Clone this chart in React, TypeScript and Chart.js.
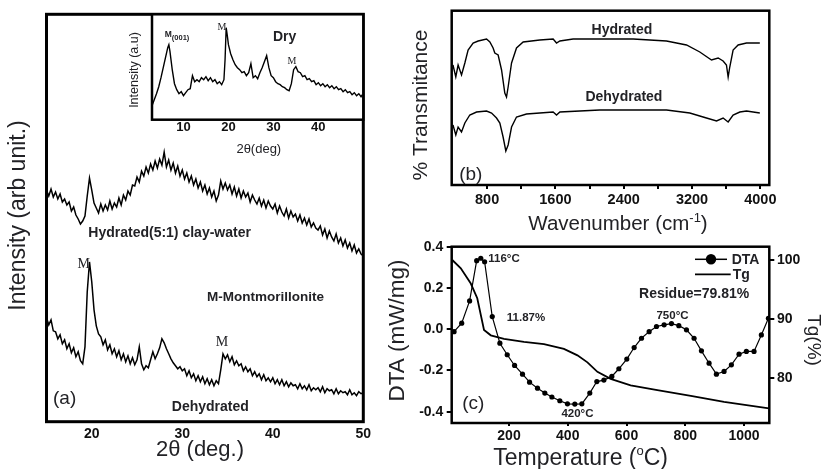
import React, { useEffect, useRef } from 'react';
import { Chart, registerables } from 'chart.js';

Chart.register(...registerables);

const SANS = '"Liberation Sans", Arial, Helvetica, sans-serif';
const SERIF = '"Liberation Serif", "Times New Roman", serif';
const INK = '#111111';
const TXT = '#222226';

// ---------- (a) XRD, main panel ----------
const xrdAngles = [15,15.25,15.5,15.75,16,16.25,16.5,16.75,17,17.25,17.5,17.75,18,18.25,18.5,18.75,19,19.25,19.5,19.75,20,20.25,20.5,20.75,21,21.25,21.5,21.75,22,22.25,22.5,22.75,23,23.25,23.5,23.75,24,24.25,24.5,24.75,25,25.25,25.5,25.75,26,26.25,26.5,26.75,27,27.25,27.5,27.75,28,28.25,28.5,28.75,29,29.25,29.5,29.75,30,30.25,30.5,30.75,31,31.25,31.5,31.75,32,32.25,32.5,32.75,33,33.25,33.5,33.75,34,34.25,34.5,34.75,35,35.25,35.5,35.75,36,36.25,36.5,36.75,37,37.25,37.5,37.75,38,38.25,38.5,38.75,39,39.25,39.5,39.75,40,40.25,40.5,40.75,41,41.25,41.5,41.75,42,42.25,42.5,42.75,43,43.25,43.5,43.75,44,44.25,44.5,44.75,45,45.25,45.5,45.75,46,46.25,46.5,46.75,47,47.25,47.5,47.75,48,48.25,48.5,48.75,49,49.25,49.5,49.75,50];
const hydratedXrd = [232,226,233,225,230,223,228,220,223,217,220,211,215,207,203,198,201,206,226,244,
  232,219,214,209,218,211,217,212,221,213,219,215,224,217,227,222,231,227,237,236,
  245,240,251,246,255,249,258,252,261,254,263,257,270,255,262,252,259,249,256,246,
  252,243,249,240,246,237,243,234,240,231,237,228,234,225,231,221,227,241,233,239,
  232,237,228,235,226,233,224,231,225,229,220,227,222,218,224,216,222,214,221,216,
  213,218,209,216,210,206,213,204,211,205,208,201,207,199,204,197,203,195,199,194,
  192,196,187,193,184,191,185,181,188,179,184,176,182,174,179,171,177,169,173,168,
  166];
const dehydratedXrd = [104,97,102,91,90,83,87,78,82,73,78,69,74,65,70,61,58,75,130,160,
  140,112,96,88,85,77,82,72,77,68,73,65,71,62,68,60,66,58,64,57,
  62,75,58,52,56,54,62,70,63,68,74,83,79,73,68,63,59,56,53,55,
  51,53,46,51,44,48,41,46,40,45,38,43,37,42,36,41,38,52,68,63,
  67,60,65,57,61,56,58,51,55,50,53,46,50,45,48,42,47,41,44,40,
  44,38,42,37,42,36,40,35,39,36,37,33,38,33,36,32,37,31,34,32,
  34,30,35,29,33,31,32,28,33,28,31,29,30,27,32,27,29,26,30,28,
  29];
const xrdTicks = [20, 30, 40, 50];

// ---------- (a) inset, dry clay ----------
const dryAngles = [3,3.5,4,4.5,5,5.5,6,6.5,6.75,7,7.5,8,8.5,9,9.5,10,10.5,11,11.5,12,12.5,13,13.5,14,14.5,15,15.5,16,16.5,17,17.5,18,18.5,19,19.25,19.5,19.75,20,20.5,21,21.5,22,22.5,23,23.5,24,24.5,25,25.5,26,26.5,27,27.5,28,28.5,29,29.5,30,30.5,31,31.5,32,32.5,33,33.5,34,34.5,35,35.5,36,36.5,37,37.5,38,38.5,39,39.5,40,40.5,41,41.5,42,42.5,43,43.5,44,44.5,45,45.5,46,46.5,47,47.5,48,48.5,49,49.5,49.8];
const dryXrd = [14,20,26,33,42,52,62,72,75,68,50,36,30,26,28,24,27,30,31,44,38,40,38,42,40,43,39,42,38,40,36,38,35,40,60,92,84,75,66,60,55,52,50,47,48,44,47,56,42,44,41,47,52,58,64,52,44,42,38,36,35,33,32,30,29,36,50,53,48,47,43,44,40,41,38,39,35,37,34,36,33,35,32,34,31,33,30,31,28,30,27,28,25,27,24,26,23,25];
const dryTicks = [10, 20, 30, 40];

// ---------- (b) FTIR ----------
const hydWavenumbers = [400,433,460,500,539,577,636,695,793,832,870,890,929,969,1007,1027,1046,1086,1144,1222,1417,1573,1613,1652,1807,2510,2901,3135,3291,3428,3506,3564,3603,3623,3642,3681,3740,3838,3994];
const hydTransmittance = [120,108,120,110,122,135,142,144,146,143,137,132,130,115,92,88,98,122,137,143,145,146,142,144,146,146,144,140,133,125,127,124,120,108,118,135,140,142,142];
const dehWavenumbers = [400,433,460,500,539,597,676,793,852,910,949,987,1019,1046,1086,1144,1261,1417,1573,1613,1652,2120,2901,3174,3369,3487,3564,3623,3681,3760,3838,3994];
const dehTransmittance = [60,50,58,53,62,70,73,74,72,67,62,48,34,40,58,68,71,72,73,70,73,75,75,72,67,64,67,63,70,73,74,72];
const wnTicks = [800,1200,1600,2000,2400,2800,3200,3600,4000];

// ---------- (c) DTA / TG ----------
const dtaTemps = [13,39,66,90,104,117,143,169,194,219,246,270,297,322,346,373,399,424,448,475,499,523,550,574,601,626,651,677,702,728,753,778,804,830,855,881,906,932,957,983,1008,1034,1059,1083];
const dtaValues = [-0.012,0.029,0.137,0.332,0.344,0.327,0.061,-0.068,-0.124,-0.176,-0.218,-0.257,-0.286,-0.31,-0.329,-0.347,-0.362,-0.363,-0.362,-0.31,-0.254,-0.247,-0.229,-0.192,-0.145,-0.089,-0.044,-0.012,0.013,0.021,0.027,0.017,-0.003,-0.044,-0.105,-0.165,-0.218,-0.205,-0.173,-0.121,-0.108,-0.108,-0.028,0.053];
const tgTemps = [7,36,70,92,115,138,183,251,319,387,433,467,501,546,614,705,819,932,1085];
const tgValues = [100,98.6,96.0,93.5,88.1,87.2,86.6,86.1,85.7,84.9,83.8,82.6,81.0,79.8,78.7,77.9,76.9,75.9,74.8];
const tempTicks = [200, 400, 600, 800, 1000];
const dtaTicks = [-0.4, -0.2, 0, 0.2, 0.4];
const tgTicks = [80, 90, 100];

// ---------- helpers ----------
type Part = { t: string; size: number; bold?: boolean; serif?: boolean; dy?: number };
type Label = {
  parts: Part[]; x: number; y: number;
  align?: 'left' | 'center' | 'right'; base?: CanvasTextBaseline; rot?: number; axes?: [string, string];
};

const fontOf = (p: Part) => `${p.bold ? 'bold ' : ''}${p.size}px ${p.serif ? SERIF : SANS}`;

function labelsPlugin(labels: Label[]) {
  return {
    id: 'labels',
    afterDraw(chart: any) {
      const ctx = chart.ctx as CanvasRenderingContext2D;
      for (const L of labels) {
        let x = L.x, y = L.y;
        if (L.axes) {
          x = chart.scales[L.axes[0]].getPixelForValue(L.x);
          y = chart.scales[L.axes[1]].getPixelForValue(L.y);
        }
        ctx.save();
        ctx.translate(x, y);
        if (L.rot) ctx.rotate(L.rot);
        ctx.fillStyle = TXT;
        ctx.textAlign = 'left';
        ctx.textBaseline = L.base ?? 'middle';
        const w = L.parts.map((p) => { ctx.font = fontOf(p); return ctx.measureText(p.t).width; });
        const total = w.reduce((a, b) => a + b, 0);
        let cx = L.align === 'left' ? 0 : L.align === 'right' ? -total : -total / 2;
        L.parts.forEach((p, i) => { ctx.font = fontOf(p); ctx.fillText(p.t, cx, p.dy ?? 0); cx += w[i]; });
        ctx.restore();
      }
    },
  };
}

function framePlugin(width: number, fillWhite = false) {
  return {
    id: 'frame',
    beforeDatasetsDraw(chart: any) {
      if (!fillWhite) return;
      const { ctx, chartArea: a } = chart;
      ctx.save();
      ctx.fillStyle = '#fff';
      ctx.fillRect(a.left, a.top, a.right - a.left, a.bottom - a.top);
      ctx.restore();
    },
    afterDatasetsDraw(chart: any) {
      const { ctx, chartArea: a } = chart;
      ctx.save();
      ctx.strokeStyle = '#000';
      ctx.lineWidth = width;
      ctx.strokeRect(a.left, a.top, a.right - a.left, a.bottom - a.top);
      ctx.restore();
    },
  };
}

const dtaLegendPlugin = {
  id: 'dtaLegend',
  afterDraw(chart: any) {
    const ctx = chart.ctx as CanvasRenderingContext2D;
    ctx.save();
    ctx.strokeStyle = '#000';
    ctx.fillStyle = '#000';
    ctx.lineWidth = 1.5;
    ctx.beginPath(); ctx.moveTo(315, 34.3); ctx.lineTo(347, 34.3); ctx.stroke();
    ctx.beginPath(); ctx.arc(331, 34.3, 5.2, 0, Math.PI * 2); ctx.fill();
    ctx.lineWidth = 1.8;
    ctx.beginPath(); ctx.moveTo(315, 49.3); ctx.lineTo(350.7, 49.3); ctx.stroke();
    ctx.restore();
  },
};

const fixedWidth = (w: number) => (s: any) => { s.width = w; };
const fixedHeight = (h: number) => (s: any) => { s.height = h; };
const setTicks = (vals: number[]) => (s: any) => { s.ticks = vals.map((value) => ({ value })); };
const tickFont = (size: number) => ({ family: SANS, size, weight: 'bold' as const });
const noGrid = { display: false, drawTicks: false };
const tickGrid = (len: number) => ({ display: true, drawOnChartArea: false, drawTicks: true, tickLength: len, color: '#000', lineWidth: 2 });
const baseOptions = {
  responsive: false,
  animation: false as const,
  events: [] as any[],
};
const quietPlugins = { legend: { display: false }, tooltip: { enabled: false } };
const pairs = (xs: number[], ys: number[]) => xs.map((x, i) => ({ x, y: ys[i] }));

// ---------- configs ----------
const configA = () => ({
  type: 'line',
  data: {
    datasets: [
      { label: 'Hydrated(5:1) clay-water', data: pairs(xrdAngles, hydratedXrd), borderColor: '#000', borderWidth: 1.5, pointRadius: 0 },
      { label: 'Dehydrated', data: pairs(xrdAngles, dehydratedXrd), borderColor: '#000', borderWidth: 1.5, pointRadius: 0 },
    ],
  },
  options: {
    ...baseOptions,
    layout: { padding: { left: 0, top: 14.3, right: 16.7, bottom: 0 } },
    plugins: quietPlugins,
    scales: {
      x: {
        type: 'linear', min: 15, max: 50, afterBuildTicks: setTicks(xrdTicks), afterFit: fixedHeight(47.3),
        grid: noGrid, border: { display: false },
        ticks: { font: tickFont(14), color: INK, padding: 4, maxRotation: 0, autoSkip: false, callback: (v: any) => String(v) },
      },
      y: { type: 'linear', min: 0, max: 408, afterFit: fixedWidth(46.5), grid: noGrid, border: { display: false }, ticks: { display: false } },
    },
  },
  plugins: [
    framePlugin(3),
    labelsPlugin([
      { parts: [{ t: 'Intensity (arb unit.)', size: 23 }], x: 18.5, y: 215.5, rot: -Math.PI / 2 },
      { parts: [{ t: '2θ (deg.)', size: 22 }], x: 200, y: 456, base: 'alphabetic' },
      { parts: [{ t: 'Hydrated(5:1) clay-water', size: 14, bold: true }], x: 28.6, y: 189, axes: ['x', 'y'] },
      { parts: [{ t: 'M-Montmorillonite', size: 13.5, bold: true }], x: 39.2, y: 125, axes: ['x', 'y'] },
      { parts: [{ t: 'Dehydrated', size: 14, bold: true }], x: 33.1, y: 15, axes: ['x', 'y'] },
      { parts: [{ t: '(a)', size: 19 }], x: 17.0, y: 23, axes: ['x', 'y'] },
      { parts: [{ t: 'M', size: 14, serif: true }], x: 19.1, y: 158, axes: ['x', 'y'] },
      { parts: [{ t: 'M', size: 14, serif: true }], x: 34.4, y: 79, axes: ['x', 'y'] },
    ]),
  ],
});

const configInset = () => ({
  type: 'line',
  data: {
    datasets: [
      { label: 'Dry', data: pairs(dryAngles, dryXrd), borderColor: '#000', borderWidth: 1.4, pointRadius: 0 },
    ],
  },
  options: {
    ...baseOptions,
    layout: { padding: { left: 0, top: 14.3, right: 6.7, bottom: 0 } },
    plugins: quietPlugins,
    scales: {
      x: {
        type: 'linear', min: 3, max: 50, afterBuildTicks: setTicks(dryTicks), afterFit: fixedHeight(40.3),
        grid: noGrid, border: { display: false },
        ticks: { font: tickFont(13), color: INK, padding: 0, maxRotation: 0, autoSkip: false, callback: (v: any) => String(v) },
      },
      y: { type: 'linear', min: 0, max: 105.4, afterFit: fixedWidth(32), grid: noGrid, border: { display: false }, ticks: { display: false } },
    },
  },
  plugins: [
    framePlugin(2.5, true),
    labelsPlugin([
      { parts: [{ t: 'Intensity (a.u)', size: 12.5 }], x: 15, y: 70, rot: -Math.PI / 2 },
      { parts: [{ t: '2θ(deg)', size: 13 }], x: 138.8, y: 152.5, base: 'alphabetic' },
      { parts: [{ t: 'Dry', size: 14, bold: true }], x: 32.5, y: 82.7, axes: ['x', 'y'] },
      { parts: [{ t: 'M', size: 8.5, bold: true }, { t: '(001)', size: 7.5, bold: true, dy: 3 }], x: 5.83, y: 84.7, align: 'left', axes: ['x', 'y'] },
      { parts: [{ t: 'M', size: 10, serif: true }], x: 18.54, y: 92.7, axes: ['x', 'y'] },
      { parts: [{ t: 'M', size: 10, serif: true }], x: 34.15, y: 58.7, axes: ['x', 'y'] },
    ]),
  ],
});

const configB = () => ({
  type: 'line',
  data: {
    datasets: [
      { label: 'Hydrated', data: pairs(hydWavenumbers, hydTransmittance), borderColor: '#000', borderWidth: 1.4, pointRadius: 0 },
      { label: 'Dehydrated', data: pairs(dehWavenumbers, dehTransmittance), borderColor: '#000', borderWidth: 1.4, pointRadius: 0 },
    ],
  },
  options: {
    ...baseOptions,
    layout: { padding: { left: 0, top: 10.7, right: 51.7, bottom: 0 } },
    plugins: quietPlugins,
    scales: {
      x: {
        type: 'linear', min: 385, max: 4105, afterBuildTicks: setTicks(wnTicks), afterFit: fixedHeight(55),
        grid: tickGrid(4), border: { display: false },
        ticks: {
          font: tickFont(14.5), color: INK, padding: 2.3, maxRotation: 0, autoSkip: false,
          callback: (v: any) => (Number(v) % 800 === 0 ? String(v) : ''),
        },
      },
      y: { type: 'linear', min: 0, max: 174.3, afterFit: fixedWidth(61.7), grid: noGrid, border: { display: false }, ticks: { display: false } },
    },
  },
  plugins: [
    framePlugin(2.5),
    labelsPlugin([
      { parts: [{ t: '% Transmitance', size: 21 }], x: 31.5, y: 105, rot: -Math.PI / 2 },
      { parts: [{ t: 'Wavenumber (cm', size: 20.5 }, { t: '-1', size: 13, dy: -8.5 }, { t: ')', size: 20.5 }], x: 138.3, y: 230, align: 'left', base: 'alphabetic' },
      { parts: [{ t: 'Hydrated', size: 14, bold: true }], x: 2379, y: 155, axes: ['x', 'y'] },
      { parts: [{ t: 'Dehydrated', size: 14, bold: true }], x: 2402, y: 88, axes: ['x', 'y'] },
      { parts: [{ t: '(b)', size: 19 }], x: 609, y: 10, axes: ['x', 'y'] },
    ]),
  ],
});

const configC = () => ({
  type: 'line',
  data: {
    datasets: [
      {
        label: 'DTA', data: pairs(dtaTemps, dtaValues), yAxisID: 'y', borderColor: '#000', borderWidth: 1.2,
        pointRadius: 2.6, pointBackgroundColor: '#000', pointBorderWidth: 0,
      },
      { label: 'Tg', data: pairs(tgTemps, tgValues), yAxisID: 'y1', borderColor: '#000', borderWidth: 1.8, pointRadius: 0 },
    ],
  },
  options: {
    ...baseOptions,
    layout: { padding: { left: 0, top: 21.7, right: 0, bottom: 0 } },
    plugins: quietPlugins,
    scales: {
      x: {
        type: 'linear', min: 5, max: 1086, afterBuildTicks: setTicks(tempTicks), afterFit: fixedHeight(46),
        grid: tickGrid(3), border: { display: false },
        ticks: { font: tickFont(14), color: INK, padding: 1.3, maxRotation: 0, autoSkip: false, callback: (v: any) => String(v) },
      },
      y: {
        type: 'linear', position: 'left', min: -0.455, max: 0.4, afterBuildTicks: setTicks(dtaTicks), afterFit: fixedWidth(71.7),
        grid: tickGrid(5), border: { display: false },
        ticks: { font: tickFont(14), color: INK, padding: 3.4, autoSkip: false, callback: (v: any) => Number(v).toFixed(1) },
      },
      y1: {
        type: 'linear', position: 'right', min: 72.3, max: 102.26, afterBuildTicks: setTicks(tgTicks), afterFit: fixedWidth(51.7),
        grid: tickGrid(5), border: { display: false },
        ticks: { font: tickFont(14), color: INK, padding: 2.7, autoSkip: false, callback: (v: any) => String(v) },
      },
    },
  },
  plugins: [
    framePlugin(2.5),
    dtaLegendPlugin,
    labelsPlugin([
      { parts: [{ t: 'DTA (mW/mg)', size: 22.5 }], x: 18, y: 105.5, rot: -Math.PI / 2 },
      { parts: [{ t: 'Tg(%)', size: 19 }], x: 433, y: 115, rot: Math.PI / 2 },
      { parts: [{ t: 'Temperature (', size: 23 }, { t: 'o', size: 13, dy: -9.5 }, { t: 'C)', size: 23 }], x: 113.3, y: 239.5, align: 'left', base: 'alphabetic' },
      { parts: [{ t: '116°C', size: 11.5, bold: true }], x: 183, y: 0.343, axes: ['x', 'y'] },
      { parts: [{ t: '11.87%', size: 11.5, bold: true }], x: 258, y: 0.057, axes: ['x', 'y'] },
      { parts: [{ t: '750°C', size: 11.5, bold: true }], x: 756.5, y: 0.066, axes: ['x', 'y'] },
      { parts: [{ t: '420°C', size: 11.5, bold: true }], x: 433, y: -0.41, axes: ['x', 'y'] },
      { parts: [{ t: '(c)', size: 19 }], x: 78.5, y: -0.361, axes: ['x', 'y'] },
      { parts: [{ t: 'Residue=79.81%', size: 14, bold: true }], x: 830, y: 0.171, axes: ['x', 'y'] },
      { parts: [{ t: 'DTA', size: 14, bold: true }], x: 351.7, y: 35, align: 'left' },
      { parts: [{ t: 'Tg', size: 14, bold: true }], x: 352.7, y: 50, align: 'left' },
    ]),
  ],
});

// ---------- components ----------
function Panel({ left, top, width, height, config }: { left: number; top: number; width: number; height: number; config: () => any }) {
  const ref = useRef<HTMLCanvasElement>(null);
  useEffect(() => {
    const chart = new Chart(ref.current as HTMLCanvasElement, config());
    return () => chart.destroy();
  }, []);
  return (
    <canvas
      ref={ref}
      width={width}
      height={height}
      style={{ position: 'absolute', left, top, width, height, display: 'block' }}
    />
  );
}

export default function App() {
  return (
    <div style={{ position: 'absolute', left: 0, top: 0, width: 821, height: 469, overflow: 'hidden', background: '#fff' }}>
      <Panel left={0} top={0} width={380} height={469} config={configA} />
      <Panel left={120} top={0} width={250} height={160} config={configInset} />
      <Panel left={390} top={0} width={431} height={240} config={configB} />
      <Panel left={380} top={225} width={441} height={244} config={configC} />
    </div>
  );
}
